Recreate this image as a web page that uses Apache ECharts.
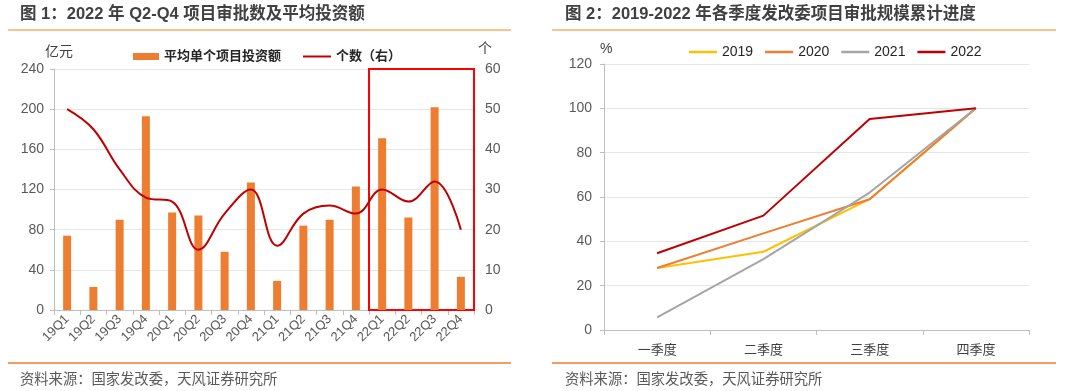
<!DOCTYPE html>
<html><head><meta charset="utf-8">
<script src="https://cdn.jsdelivr.net/npm/echarts@6/dist/echarts.min.js"></script>
<style>html,body{margin:0;padding:0;background:#fff}#c{width:1080px;height:391px}</style>
</head><body><div id="c"></div>
<script>
// ---- Data ----
const quarters = ['19Q1','19Q2','19Q3','19Q4','20Q1','20Q2','20Q3','20Q4','21Q1','21Q2','21Q3','21Q4','22Q1','22Q2','22Q3','22Q4'];
const avgInvest = [74, 23, 90, 193, 97, 94, 58, 127, 29, 84, 90, 123, 171, 92, 202, 33];
const projCount = [50, 45, 35, 28, 27, 15, 24, 30, 16, 24, 26, 24, 30, 27, 32, 20];
const seasons = ['一季度','二季度','三季度','四季度'];
const p2019 = [28, 35.3, 59, 100];
const p2020 = [28, 43.6, 59, 100];
const p2021 = [5.7, 32, 62, 100];
const p2022 = [34.6, 51.6, 95.2, 100];
const highlightRange = [12, 16]; // 22Q1..22Q4 band index range

const FONT = '"Liberation Sans", Arial, "Noto Sans CJK SC", sans-serif';
const chart = echarts.init(document.getElementById('c'));
const axisLabelStyle = {color:'#595959', fontSize:14, fontFamily:FONT};
const gridLine = {lineStyle:{color:'#E6E6E6', width:1}};
const axLine = {lineStyle:{color:'#BFBFBF'}};

chart.setOption({
  animation:false,
  textStyle:{fontFamily:FONT},
  grid:[
    {left:54, right:606, top:69, bottom:81},
    {left:604, right:51, top:64, bottom:61}
  ],
  legend:[
    {left:128, top:45, itemWidth:26, itemHeight:7,
     textStyle:{fontSize:13, fontWeight:'bold', color:'#262626', fontFamily:FONT},
     data:[{name:'平均单个项目投资额', icon:'rect'}]},
    {left:298, top:45, itemWidth:28, itemHeight:2, icon:'rect',
     textStyle:{fontSize:13, fontWeight:'bold', color:'#262626', fontFamily:FONT},
     data:['个数（右）']},
    {left:684, top:40, itemWidth:28, itemHeight:2.5, itemGap:12, icon:'rect',
     textStyle:{fontSize:14, color:'#262626', fontFamily:FONT},
     data:['2019','2020','2021','2022']}
  ],
  xAxis:[
    {type:'category', gridIndex:0, data:quarters,
     axisLine:axLine, axisTick:{show:true, length:5, lineStyle:{color:'#BFBFBF'}},
     axisLabel:{color:'#595959', fontSize:13, rotate:45, margin:7, interval:0, fontFamily:FONT}},
    {type:'value', gridIndex:0, min:0, max:quarters.length, show:false},
    {type:'category', gridIndex:1, data:seasons,
     axisLine:axLine, axisTick:{show:true, length:5, lineStyle:{color:'#BFBFBF'}},
     axisLabel:{color:'#404040', fontSize:13, margin:14, fontFamily:FONT}}
  ],
  yAxis:[
    {type:'value', gridIndex:0, min:0, max:240, interval:40,
     axisLine:{show:true, lineStyle:{color:'#BFBFBF'}}, axisTick:{show:true, length:4, lineStyle:{color:'#BFBFBF'}},
     splitLine:gridLine, axisLabel:Object.assign({margin:10}, axisLabelStyle)},
    {type:'value', gridIndex:0, position:'right', min:0, max:60, interval:10,
     axisLine:{show:false}, axisTick:{show:false}, splitLine:{show:false},
     axisLabel:Object.assign({margin:11}, axisLabelStyle)},
    {type:'value', gridIndex:1, min:0, max:120, interval:20,
     axisLine:{show:true, lineStyle:{color:'#BFBFBF'}}, axisTick:{show:true, length:4, lineStyle:{color:'#BFBFBF'}},
     splitLine:gridLine, axisLabel:Object.assign({margin:12}, axisLabelStyle)}
  ],
  series:[
    {name:'平均单个项目投资额', type:'bar', xAxisIndex:0, yAxisIndex:0, data:avgInvest,
     barWidth:8, itemStyle:{color:'#ED7D31'}},
    {name:'个数（右）', type:'line', xAxisIndex:0, yAxisIndex:1, data:projCount,
     smooth:0.4, symbol:'none', lineStyle:{color:'#C00000', width:2}, itemStyle:{color:'#C00000'}},
    {name:'highlight', type:'line', xAxisIndex:1, yAxisIndex:0, data:[], silent:true,
     markArea:{silent:true, itemStyle:{color:'rgba(0,0,0,0)', borderColor:'#FF0000', borderWidth:2},
       data:[[{xAxis:highlightRange[0], yAxis:0},{xAxis:highlightRange[1], yAxis:240}]]}},
    {name:'2019', type:'line', xAxisIndex:2, yAxisIndex:2, data:p2019, symbol:'none',
     lineStyle:{color:'#FFC000', width:2}, itemStyle:{color:'#FFC000'}},
    {name:'2020', type:'line', xAxisIndex:2, yAxisIndex:2, data:p2020, symbol:'none',
     lineStyle:{color:'#ED7D31', width:2}, itemStyle:{color:'#ED7D31'}},
    {name:'2021', type:'line', xAxisIndex:2, yAxisIndex:2, data:p2021, symbol:'none',
     lineStyle:{color:'#A5A5A5', width:2}, itemStyle:{color:'#A5A5A5'}},
    {name:'2022', type:'line', xAxisIndex:2, yAxisIndex:2, data:p2022, symbol:'none',
     lineStyle:{color:'#C00000', width:2}, itemStyle:{color:'#C00000'}}
  ],
  graphic:[
    {type:'text', left:20, top:6, style:{text:'图 1：2022 年 Q2-Q4 项目审批数及平均投资额', fill:'#404040', font:'bold 16.5px '+FONT}},
    {type:'line', shape:{x1:8, y1:30, x2:511, y2:30}, style:{stroke:'#F6B26B', lineWidth:1.5}},
    {type:'text', left:45, top:45, style:{text:'亿元', fill:'#404040', font:'14px '+FONT}},
    {type:'text', left:478, top:42, style:{text:'个', fill:'#404040', font:'14px '+FONT}},
    {type:'line', shape:{x1:8, y1:363, x2:511, y2:363}, style:{stroke:'#ED7D31', lineWidth:1.5}},
    {type:'text', left:20, top:373, style:{text:'资料来源：国家发改委，天风证券研究所', fill:'#595959', font:'14.3px '+FONT}},

    {type:'text', left:565, top:6, style:{text:'图 2：2019-2022 年各季度发改委项目审批规模累计进度', fill:'#404040', font:'bold 16.5px '+FONT}},
    {type:'line', shape:{x1:552, y1:30, x2:1056, y2:30}, style:{stroke:'#F6B26B', lineWidth:1.5}},
    {type:'text', left:600, top:42, style:{text:'%', fill:'#404040', font:'14px '+FONT}},
    {type:'line', shape:{x1:552, y1:363, x2:1056, y2:363}, style:{stroke:'#ED7D31', lineWidth:1.5}},
    {type:'text', left:565, top:373, style:{text:'资料来源：国家发改委，天风证券研究所', fill:'#595959', font:'14.3px '+FONT}}
  ]
});
</script></body></html>
